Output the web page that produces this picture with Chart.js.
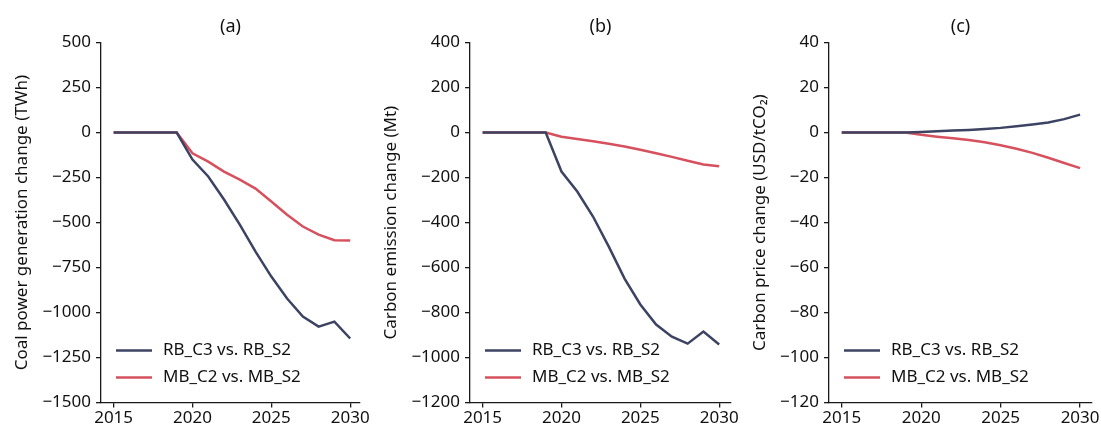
<!DOCTYPE html>
<html>
<head>
<meta charset="utf-8">
<script src="https://cdn.jsdelivr.net/npm/chart.js@4"></script>
<style>
  body { margin: 0; background: #fff; }
  .panel { position: absolute; top: 0; height: 430px; }
</style>
</head>
<body>
<div class="panel" style="left:0;width:370px"><canvas id="chartA"></canvas></div>
<div class="panel" style="left:369px;width:370px"><canvas id="chartB"></canvas></div>
<div class="panel" style="left:728px;width:373px"><canvas id="chartC"></canvas></div>
<script>
const years = [2015, 2016, 2017, 2018, 2019, 2020, 2021, 2022, 2023, 2024, 2025, 2026, 2027, 2028, 2029, 2030];
const xTicks = [2015, 2020, 2025, 2030];
const seriesNames = ['RB_C3 vs. RB_S2', 'MB_C2 vs. MB_S2'];

// (a) coal power generation change, TWh
const coalRB = [0, 0, 0, 0, 0, -150, -244, -372, -511, -661, -800, -922, -1022, -1078, -1050, -1144];
const coalMB = [0, 0, 0, 0, 0, -115, -161, -217, -261, -311, -383, -456, -522, -567, -598, -600];
// (b) carbon emission change, Mt
const emisRB = [0, 0, 0, 0, 0, -173, -262, -373, -507, -649, -764, -853, -907, -938, -884, -942];
const emisMB = [0, 0, 0, 0, 0, -18, -28, -38, -50, -62, -76, -92, -108, -125, -142, -150];
// (c) carbon price change, USD/tCO2
const priceRB = [0, 0, 0, 0, 0, 0.3, 0.6, 0.9, 1.2, 1.6, 2.1, 2.8, 3.6, 4.5, 6.0, 8.0];
const priceMB = [0, 0, 0, 0, 0, -1.0, -1.8, -2.5, -3.3, -4.3, -5.6, -7.2, -9.0, -11.2, -13.5, -15.8];

const navy = '#3c4363';
const red = '#d6505d';
const FONT = '"Noto Sans", "Open Sans", sans-serif';

// legend drawn inside the plot, bottom left
const insideLegend = {
    id: 'insideLegend',
    afterDatasetsDraw(chart) {
        const { ctx, chartArea } = chart;
        ctx.save();
        ctx.font = '17px ' + FONT;
        ctx.textBaseline = 'middle';
        chart.data.datasets.forEach((ds, i) => {
            const y = chartArea.bottom - 52 + i * 27;
            const x = chartArea.left + 15;
            ctx.strokeStyle = ds.borderColor;
            ctx.lineWidth = 2.5;
            ctx.beginPath();
            ctx.moveTo(x, y);
            ctx.lineTo(x + 36, y);
            ctx.stroke();
            ctx.fillStyle = '#111';
            ctx.fillText(ds.label, x + 47, y);
        });
        ctx.restore();
    }
};

function toPoints(values) {
    return values.map((v, i) => ({ x: years[i], y: v }));
}

function makeChart(id, title, yTitle, rb, mb, yMin, yMax, step, cfg) {
    const axisLine = { color: '#1a1a1a', width: 1.3 };
    const grid = { drawOnChartArea: false, drawTicks: true, tickLength: 5, color: '#1a1a1a', lineWidth: 1.3 };
    new Chart(document.getElementById(id), {
        type: 'line',
        data: {
            datasets: [
                { label: seriesNames[0], data: toPoints(rb), borderColor: navy, borderWidth: 2.5, pointRadius: 0, tension: 0 },
                { label: seriesNames[1], data: toPoints(mb), borderColor: red, borderWidth: 2.5, pointRadius: 0, tension: 0 }
            ]
        },
        options: {
            responsive: true,
            maintainAspectRatio: false,
            animation: false,
            layout: { padding: { left: 0, right: cfg.padRight, top: 0, bottom: 2 } },
            plugins: {
                legend: { display: false },
                tooltip: { enabled: false },
                title: {
                    display: true, text: title, fullSize: false, color: '#111',
                    font: { family: FONT, size: 18, weight: 'normal' },
                    padding: { top: 16, bottom: 5 }
                }
            },
            scales: {
                x: {
                    type: 'linear', min: 2014.2, max: cfg.xMax,
                    border: axisLine, grid: grid,
                    afterBuildTicks: s => { s.ticks = xTicks.map(v => ({ value: v })); },
                    ticks: { color: '#111', font: { family: FONT, size: 17 }, padding: 0, maxRotation: 0,
                             callback: v => String(v) }
                },
                y: {
                    min: yMin, max: yMax,
                    border: axisLine, grid: grid,
                    afterFit: s => { s.width = 101; },
                    title: { display: true, text: yTitle, color: '#111',
                             font: { family: FONT, size: 17 }, padding: { top: cfg.titlePad, bottom: 4 } },
                    ticks: { stepSize: step, color: '#111', font: { family: FONT, size: 17 }, padding: 5,
                             callback: v => String(v).replace('-', '\u2212') }
                }
            }
        },
        plugins: [insideLegend]
    });
}

makeChart('chartA', '(a)', 'Coal power generation change (TWh)', coalRB, coalMB, -1500, 500, 250,
    { padRight: 8, titlePad: 12, xMax: 2030.63 });
makeChart('chartB', '(b)', 'Carbon emission change (Mt)', emisRB, emisMB, -1200, 400, 200,
    { padRight: 7, titlePad: 12, xMax: 2030.75 });
makeChart('chartC', '(c)', 'Carbon price change (USD/tCO\u2082)', priceRB, priceMB, -120, 40, 20,
    { padRight: 9, titlePad: 22, xMax: 2030.75 });
</script>
</body>
</html>
